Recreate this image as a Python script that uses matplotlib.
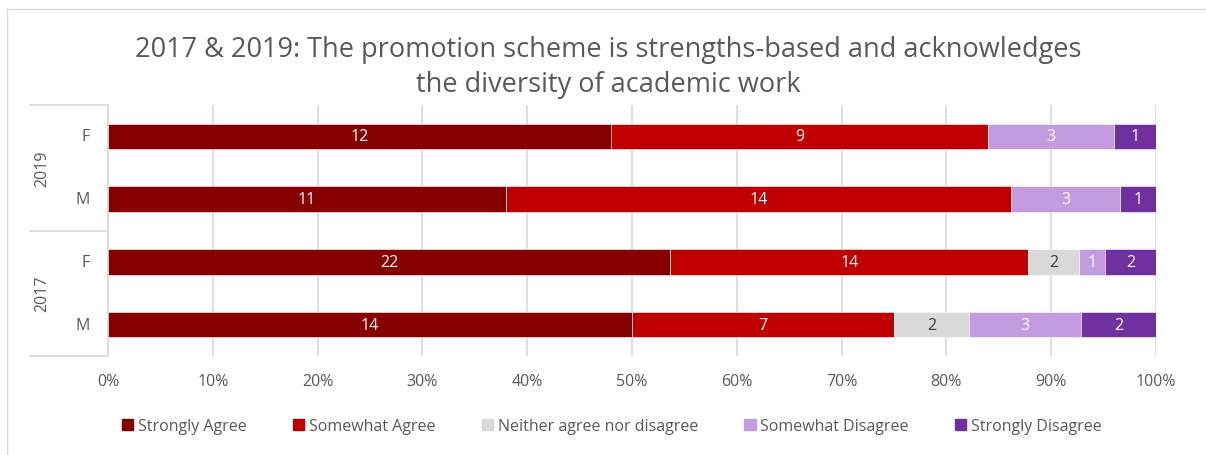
import matplotlib
matplotlib.use("Agg")
import matplotlib.pyplot as plt
from matplotlib.lines import Line2D
from matplotlib.patches import Rectangle
import numpy as np

plt.rcParams['font.family'] = ['Open Sans', 'DejaVu Sans']

# Rows from top to bottom
years = ["2019", "2019", "2017", "2017"]
genders = ["F", "M", "F", "M"]
responses = ["Strongly Agree", "Somewhat Agree", "Neither agree nor disagree",
             "Somewhat Disagree", "Strongly Disagree"]
strongly_agree = [12, 11, 22, 14]
somewhat_agree = [9, 14, 14, 7]
neither = [0, 0, 2, 2]
somewhat_disagree = [3, 3, 1, 3]
strongly_disagree = [1, 1, 2, 2]
x_ticks = [0, 10, 20, 30, 40, 50, 60, 70, 80, 90, 100]

colors = ["#870000", "#C00000", "#D9D9D9", "#C39BDF", "#7030A0"]
label_colors = ["white", "white", "#404040", "white", "white"]
text_gray = "#595959"
grid_gray = "#D9D9D9"

series = np.array([strongly_agree, somewhat_agree, neither,
                   somewhat_disagree, strongly_disagree], dtype=float)
totals = series.sum(axis=0)
pct = series / totals * 100

fig = plt.figure(figsize=(12.06, 4.56), dpi=100)
W, H = 1206, 456

# chart frame
fig.add_artist(Rectangle((7 / W, -0.1), 1.2, (1 - 10 / H) + 0.1,
                         transform=fig.transFigure, fill=False,
                         edgecolor="#D9D9D9", linewidth=1.0))

ax = fig.add_axes([108 / W, 1 - 357 / H, (1156 - 108) / W, (357 - 106) / H])

y = np.arange(len(genders))
left = np.zeros(len(genders))
for i, name in enumerate(responses):
    ax.barh(y, pct[i], left=left, height=0.41, color=colors[i],
            edgecolor="white", linewidth=0.4, label=name, zorder=3)
    for j in range(len(genders)):
        if series[i, j] > 0:
            ax.text(left[j] + pct[i, j] / 2, y[j], f"{int(series[i, j])}",
                    ha="center", va="center", fontsize=11.5,
                    color=label_colors[i], zorder=4)
    left += pct[i]

ax.set_xlim(0, 100)
ax.set_ylim(len(genders) - 0.5, -0.5)
ax.set_xticks(x_ticks)
ax.set_xticklabels([f"{t}%" for t in x_ticks], fontsize=11.5, color=text_gray)
ax.tick_params(axis="x", length=0, pad=12)
ax.set_yticks([])
ax.xaxis.grid(True, color=grid_gray, linewidth=1.2, zorder=0)
for s in ["top", "right", "bottom"]:
    ax.spines[s].set_visible(False)
ax.spines["left"].set_color(grid_gray)
ax.spines["left"].set_linewidth(1.2)

# multi-level category axis
trans = ax.get_yaxis_transform()
for j, g in enumerate(genders):
    ax.text(-0.017, y[j], g, transform=trans, ha="right", va="center",
            fontsize=11.5, color=text_gray)
x_out = (30 - 108) / (1156 - 108)
for yb in [-0.5, 1.5, 3.5]:
    ax.add_line(Line2D([x_out, 0], [yb, yb], transform=trans, color=grid_gray,
                       linewidth=1.2, clip_on=False))
year_groups = {}
for j, yr in enumerate(years):
    year_groups.setdefault(yr, []).append(j)
x_year = (42 - 108) / (1156 - 108)
for yr, idx in year_groups.items():
    ax.text(x_year, np.mean(idx), yr, transform=trans, rotation=90,
            ha="center", va="center", fontsize=11.5, color=text_gray)

fig.text(608 / W, 1 - 67.5 / H,
         "2017 & 2019: The promotion scheme is strengths-based and acknowledges\n"
         "the diversity of academic work",
         ha="center", va="center", fontsize=19.5, color=text_gray,
         linespacing=1.38)

handles = [Rectangle((0, 0), 1, 1, color=c) for c in colors]
fig.legend(handles, responses, loc="center", bbox_to_anchor=(612 / W, 1 - 427 / H),
           ncol=5, frameon=False, fontsize=11.5, handlelength=0.7,
           handleheight=0.7, handletextpad=0.3, columnspacing=2.9,
           labelcolor=text_gray)

fig.savefig("out.png", dpi=100, facecolor="white")
